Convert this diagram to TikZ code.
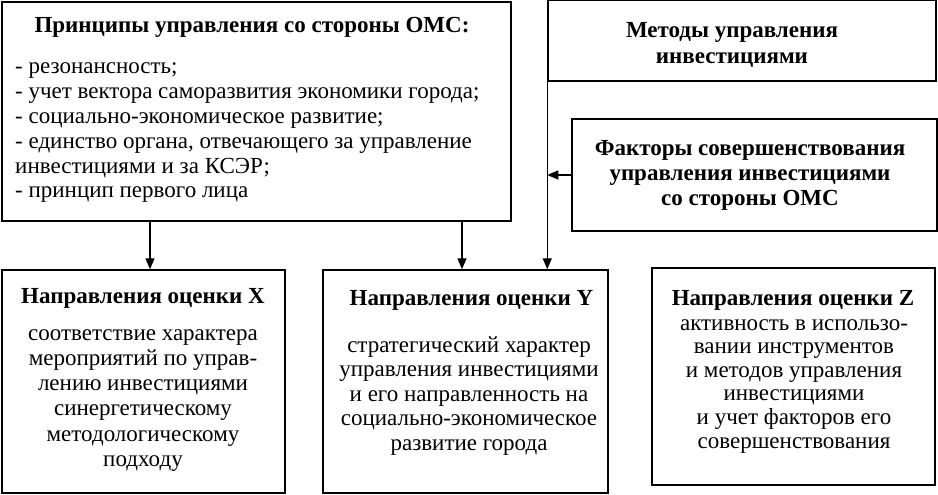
\documentclass[tikz,border=0pt]{standalone}
\usepackage{fontspec}
\setmainfont{Liberation Serif}
\usetikzlibrary{arrows.meta,calc}
\newcommand{\ctrlines}[1]{\vtop{\halign{\hfil##\hfil\cr#1\crcr}}}
\newcommand{\lftlines}[1]{\vtop{\halign{##\hfil\cr#1\crcr}}}
\begin{document}
\begin{tikzpicture}[x=1pt,y=-1pt,
 box/.style={draw, line width=1.5pt, rectangle, inner sep=0pt},
 txt/.style={inner sep=0pt, anchor=base, font=\fontsize{23}{25.3}\selectfont},
 ttl/.style={inner sep=0pt, anchor=base, font=\bfseries\fontsize{23}{25.5}\selectfont},
 arr/.style={line width=1.5pt, -{Triangle[length=11pt,width=9pt]}}]
\useasboundingbox (0,0) rectangle (938,495);
% boxes
\node[box, minimum width=509pt, minimum height=219pt] (P) at (256.5,111.5) {};
\node[box, minimum width=388pt, minimum height=81pt] (M) at (742,40.5) {};
\node[box, minimum width=365pt, minimum height=112pt] (F) at (754.5,175) {};
\node[box, minimum width=283pt, minimum height=223pt] (X) at (143.5,381.5) {};
\node[box, minimum width=285pt, minimum height=223pt] (Y) at (465.5,381.5) {};
\node[box, minimum width=283pt, minimum height=217pt] (Z) at (793.5,376.5) {};
% texts
\node[ttl] (Pt) at (252,33) {Принципы управления со стороны ОМС:};
\node[txt, anchor=base west, font=\fontsize{23}{24.8}\selectfont] (Pl) at (15,74) {\lftlines{- резонансность;\cr
- учет вектора саморазвития экономики города;\cr
- социально-экономическое развитие;\cr
- единство органа, отвечающего за управление\cr
инвестициями и за КСЭР;\cr
- принцип первого лица}};
\node[ttl] (Mt) at (732,38) {\ctrlines{Методы управления\cr инвестициями}};
\node[ttl] (Ft) at (750,155) {\ctrlines{Факторы совершенствования\cr управления инвестициями\cr со стороны ОМС}};
\node[ttl] (Xt) at (143,303) {Направления оценки X};
\node[txt] (Xb) at (143,340) {\ctrlines{соответствие характера\cr мероприятий по управ-\cr лению инвестициями\cr синергетическому\cr методологическому\cr подходу}};
\node[ttl] (Yt) at (471.5,305) {Направления оценки Y};
\node[txt, font=\fontsize{23}{24.5}\selectfont] (Yb) at (469,352) {\ctrlines{стратегический характер\cr управления инвестициями\cr и его направленность на\cr социально-экономическое\cr развитие города}};
\node[ttl] (Zt) at (793,305) {Направления оценки Z};
\node[txt, font=\fontsize{23}{23.6}\selectfont] (Zb) at (794,330) {\ctrlines{активность в использо-\cr вании инструментов\cr и методов управления\cr инвестициями\cr и учет факторов его\cr совершенствования}};
% connectors
\draw[arr] ([xshift=6.5pt]P.south -| X.north) -- ([xshift=6.5pt]X.north);
\draw[arr] ([xshift=-3.5pt]P.south -| Y.north) -- ([xshift=-3.5pt]Y.north);
\draw[arr] (M.south west) -- (M.south west |- Y.north);
\draw[arr] (F.west) -- (F.west -| M.south west);
\end{tikzpicture}
\end{document}
